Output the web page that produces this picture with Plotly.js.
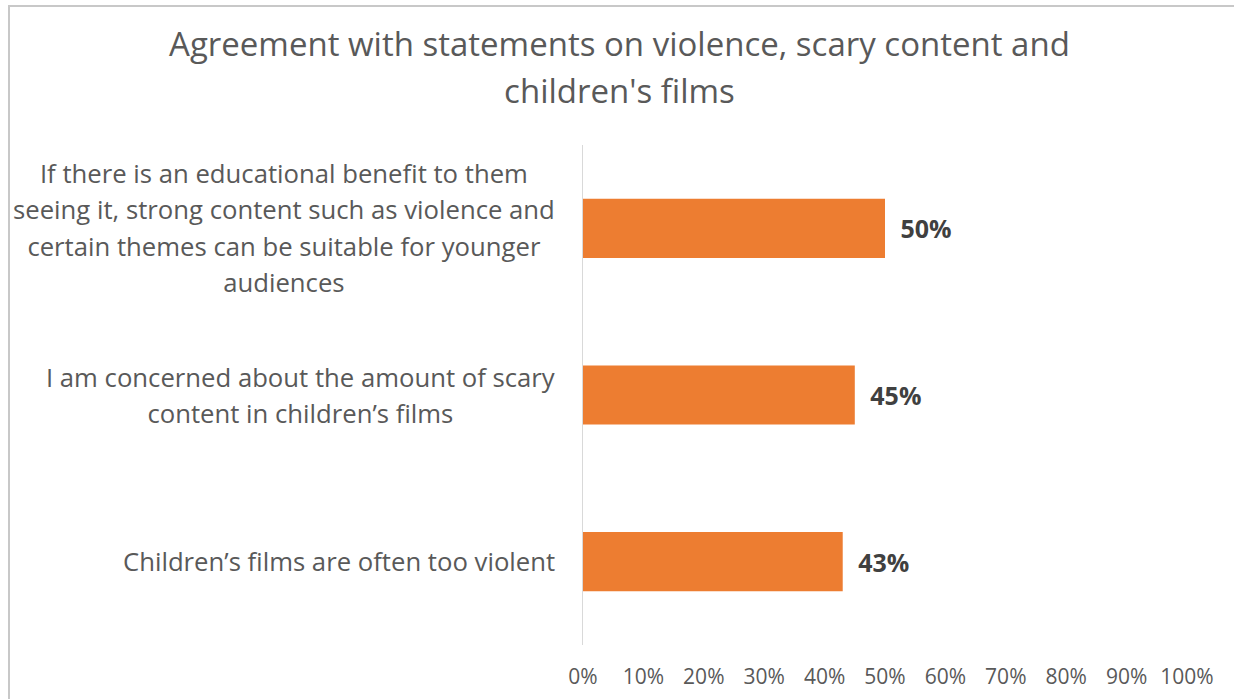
<!DOCTYPE html>
<html>
<head>
<meta charset="utf-8">
<script src="https://cdn.plot.ly/plotly-3.0.1.min.js"></script>
<style>
  html, body { margin: 0; padding: 0; background: #fff; }
  #wrap { position: relative; width: 1234px; height: 699px; overflow: hidden; }
  #frame { position: absolute; left: 8px; top: 5px; width: 1240px; height: 700px;
           border-left: 2px solid #c8c8c8; border-top: 2px solid #c8c8c8; box-sizing: border-box; }
  #chart { position: absolute; left: 0; top: 0; width: 1234px; height: 699px; }
</style>
</head>
<body>
<div id="wrap">
  <div id="frame"></div>
  <div id="chart"></div>
</div>
<script>
// ---- data ----
const categories = [
  "If there is an educational benefit to them<br>seeing it, strong content such as violence and<br>certain themes can be suitable for younger<br>audiences",
  "I am concerned about the amount of scary<br>content in children’s films",
  "Children’s films are often too violent"
];
const agreePct = [50, 45, 43];
const xTickVals = [0, 10, 20, 30, 40, 50, 60, 70, 80, 90, 100];
const xTickText = ["0%", "10%", "20%", "30%", "40%", "50%", "60%", "70%", "80%", "90%", "100%"];
const chartTitle = "Agreement with statements on violence, scary content and<br>children's films";

const grey = "#595959";
const font = "Open Sans, Noto Sans, sans-serif";

const trace = {
  type: "bar",
  orientation: "h",
  x: agreePct,
  y: categories,
  marker: { color: "#ED7D31" },
  text: agreePct.map(v => "\u2002<b>" + v + "%</b>"),
  textposition: "outside",
  cliponaxis: false,
  textfont: { family: font, size: 25, color: "#404040" },
  hoverinfo: "none"
};

const annotations = categories.map((c) => ({
  xref: "paper", yref: "y",
  x: 0, y: c,
  xanchor: "right", yanchor: "middle",
  xshift: -26,
  align: "center",
  showarrow: false,
  text: '<span style="font-size:25.7px">' + c + '</span>',
  font: { family: font, size: 28, color: grey }
}));

const layout = {
  width: 1234, height: 699,
  paper_bgcolor: "rgba(0,0,0,0)",
  plot_bgcolor: "rgba(0,0,0,0)",
  margin: { l: 583, r: 47, t: 145, b: 54 },
  showlegend: false,
  bargap: 0.645,
  title: {
    text: '<span style="font-size:33px">' + chartTitle + '</span>',
    font: { family: font, size: 36, color: grey },
    x: 0.502, xanchor: "center",
    y: 0.92, yanchor: "middle"
  },
  xaxis: {
    range: [0, 100],
    tickvals: xTickVals,
    ticktext: xTickText,
    showgrid: false,
    zeroline: false,
    showline: false,
    ticks: "outside", ticklen: 13, tickcolor: "rgba(0,0,0,0)",
    tickfont: { family: font, size: 21, color: grey },
    fixedrange: true
  },
  yaxis: {
    autorange: "reversed",
    showticklabels: false,
    showgrid: false,
    zeroline: false,
    showline: true, linecolor: "#d9d9d9", linewidth: 1,
    ticks: "",
    fixedrange: true
  },
  annotations: annotations
};

Plotly.newPlot("chart", [trace], layout, { displayModeBar: false, staticPlot: true });
</script>
</body>
</html>
